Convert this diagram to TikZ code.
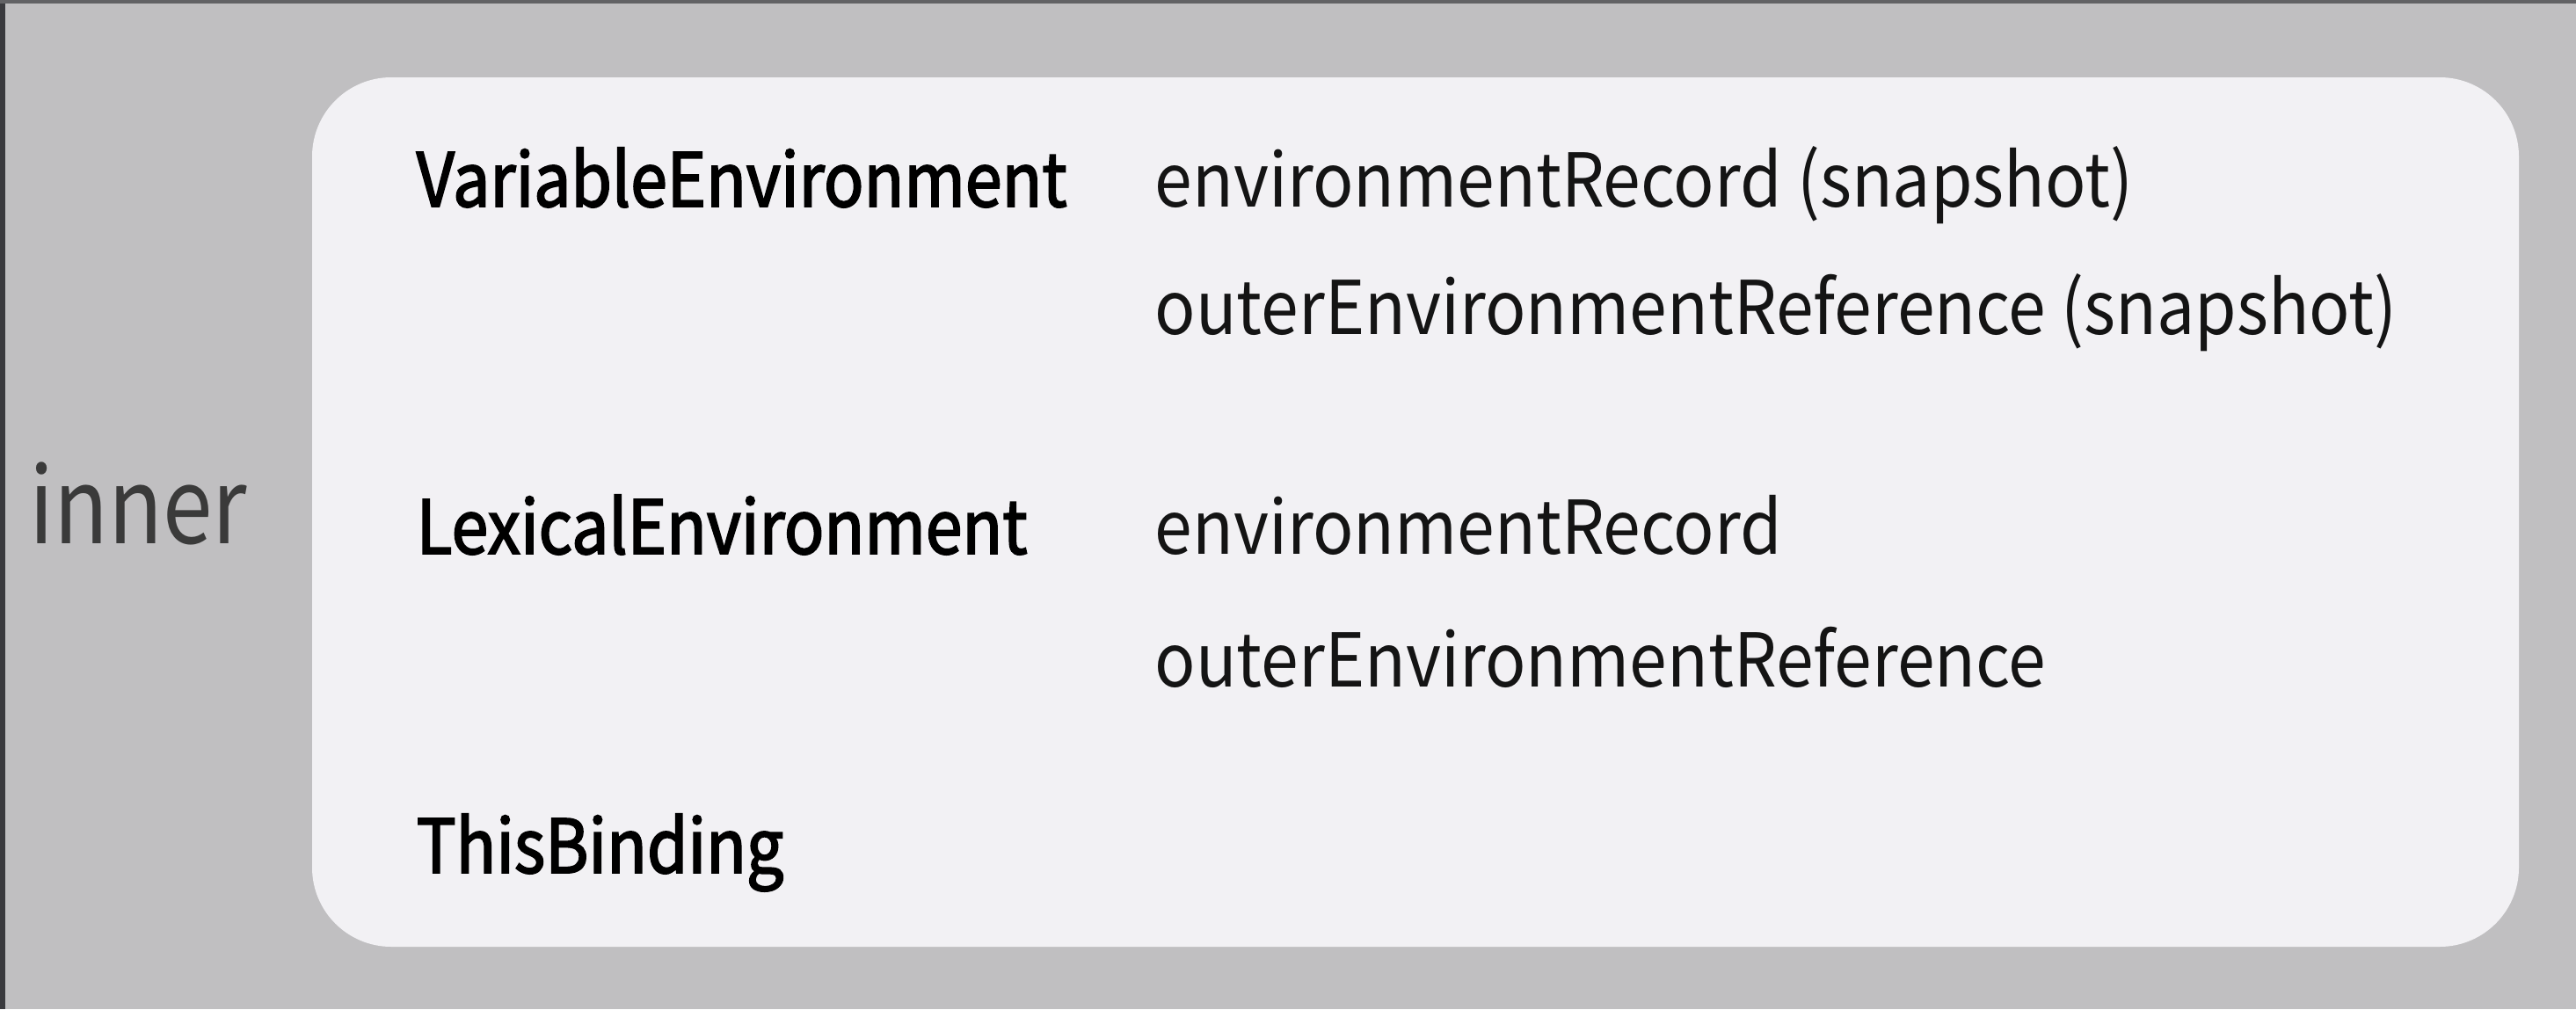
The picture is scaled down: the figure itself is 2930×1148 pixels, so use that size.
\documentclass[tikz,border=0pt]{standalone}
\usepackage{fontspec}
\setmainfont{Noto Sans CJK KR}
\newfontfamily\bodyf[FakeStretch=0.91]{Noto Sans CJK KR}
\newfontfamily\headf[FakeStretch=0.89,FakeBold=2.2]{Noto Sans CJK KR}
\newfontfamily\sidef[FakeStretch=0.85]{Noto Sans CJK KR}
\definecolor{bg}{HTML}{C0BFC1}
\definecolor{panel}{HTML}{F2F1F4}
\definecolor{edge}{HTML}{3A3A3E}
\definecolor{innergray}{HTML}{3A3A3A}
\begin{document}
\begin{tikzpicture}[x=0.01cm,y=-0.01cm,
  head/.style={anchor=base west, inner sep=0, font=\headf\fontsize{24}{28}\selectfont, text=black},
  item/.style={anchor=base west, inner sep=0, font=\bodyf\fontsize{24}{28}\selectfont, text=black!92},
  side/.style={anchor=base west, inner sep=0, font=\sidef\fontsize{34}{40}\selectfont, text=innergray}]
\fill[bg] (0,0) rectangle (2930,1148);
\useasboundingbox (0,0) rectangle (2930,1148);
\fill[edge] (0,0) rectangle (6,1148);
\fill[edge!70!bg] (0,0) rectangle (2930,4);
\fill[panel, rounded corners=0.9cm] (355,88) rectangle (2865,1077);
\node[side] (inner) at (33,618) {inner};
\node[head] (ve) at (473,235) {VariableEnvironment};
\node[item] (ver) at (1313,235) {environmentRecord (snapshot)};
\node[item] (veo) at (1313,380) {outerEnvironmentReference (snapshot)};
\node[head] (le) at (473,630) {LexicalEnvironment};
\node[item] (ler) at (1313,630) {environmentRecord};
\node[item] (leo) at (1313,781) {outerEnvironmentReference};
\node[head] (tb) at (473,993) {ThisBinding};
\end{tikzpicture}
\end{document}
